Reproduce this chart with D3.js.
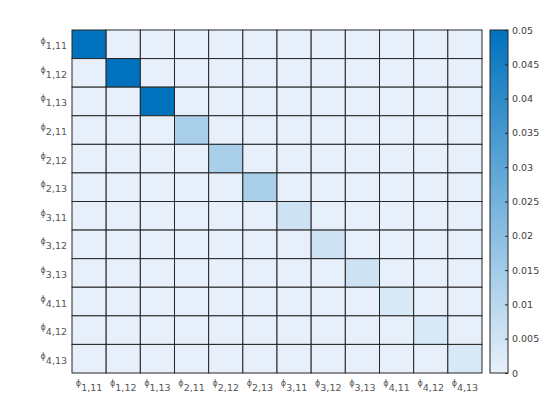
<!DOCTYPE html>
<html>
<head>
<meta charset="utf-8">
<script src="https://cdn.jsdelivr.net/npm/d3@7"></script>
<style>
  body { margin: 0; background: #fff; }
  text { font-family: "DejaVu Sans", sans-serif; }
</style>
</head>
<body>
<div id="chart"></div>
<script>
// parameter labels: phi_{group,index}
const groups = [1, 2, 3, 4];
const indices = [11, 12, 13];
const labels = groups.flatMap(g => indices.map(i => `${g},${i}`));

const diagValues = [0.05, 0.05, 0.05, 0.0135, 0.0135, 0.0135, 0.0058, 0.0058, 0.0058, 0.0036, 0.0036, 0.0036];
const offDiag = 0.0002;

const cbTicks = [0, 0.005, 0.01, 0.015, 0.02, 0.025, 0.03, 0.035, 0.04, 0.045, 0.05];

const width = 560, height = 420;
const margin = { top: 30, left: 72, right: 78, bottom: 47 };
const plotW = width - margin.left - margin.right;
const plotH = height - margin.top - margin.bottom;

const svg = d3.select("#chart").append("svg")
  .attr("width", width).attr("height", height);

const x = d3.scaleBand().domain(labels).range([margin.left, margin.left + plotW]);
const y = d3.scaleBand().domain(labels).range([margin.top, margin.top + plotH]);

const color = d3.scaleLinear().domain([0, 0.05])
  .range(["#e8f1fa", "#0072bd"]).interpolate(d3.interpolateRgb).clamp(true);

const cells = [];
labels.forEach((r, i) => labels.forEach((c, j) => {
  cells.push({ r, c, v: i === j ? diagValues[i] : offDiag });
}));

svg.append("g").selectAll("rect").data(cells).enter().append("rect")
  .attr("x", d => x(d.c)).attr("y", d => y(d.r))
  .attr("width", x.bandwidth()).attr("height", y.bandwidth())
  .attr("fill", d => color(d.v))
  .attr("stroke", "#262626").attr("stroke-width", 1);

const labelColor = "#555";

// y labels
const yl = svg.append("g").selectAll("text").data(labels).enter().append("text")
  .attr("x", margin.left - 5)
  .attr("y", d => y(d) + y.bandwidth() / 2 + 5)
  .attr("text-anchor", "end").attr("fill", labelColor);
yl.append("tspan").attr("font-size", 8).attr("dy", -5).text("ϕ");
yl.append("tspan").attr("font-size", 9.5).attr("dy", 5).text(d => d);

// x labels
const xl = svg.append("g").selectAll("text").data(labels).enter().append("text")
  .attr("x", d => x(d) + x.bandwidth() / 2)
  .attr("y", margin.top + plotH + 18)
  .attr("text-anchor", "middle").attr("fill", labelColor);
xl.append("tspan").attr("font-size", 8).attr("dy", -5).text("ϕ");
xl.append("tspan").attr("font-size", 9.5).attr("dy", 5).text(d => d);

// colorbar
const cbX = 490, cbW = 18;
const cy = d3.scaleLinear().domain([0, 0.05]).range([margin.top + plotH, margin.top]);
const defs = svg.append("defs");
const grad = defs.append("linearGradient").attr("id", "cb")
  .attr("x1", 0).attr("y1", 1).attr("x2", 0).attr("y2", 0);
grad.selectAll("stop").data(d3.range(0, 1.01, 0.1)).enter().append("stop")
  .attr("offset", d => d).attr("stop-color", d => color(d * 0.05));
svg.append("rect").attr("x", cbX).attr("y", margin.top)
  .attr("width", cbW).attr("height", plotH)
  .attr("fill", "url(#cb)").attr("stroke", "#262626");

const cbAxis = svg.append("g").attr("transform", `translate(${cbX + cbW},0)`)
  .call(d3.axisRight(cy).tickValues(cbTicks).tickSize(0).tickFormat(d => d3.format("")(+d.toFixed(3))));
cbAxis.select(".domain").remove();
cbAxis.selectAll("text").attr("font-size", 9.5).attr("fill", "#404040")
  .attr("x", 4).style("font-family", "DejaVu Sans, sans-serif");
cbAxis.selectAll(".tick").append("line").attr("x1", 0).attr("x2", -3)
  .attr("stroke", "#262626");
</script>
</body>
</html>
